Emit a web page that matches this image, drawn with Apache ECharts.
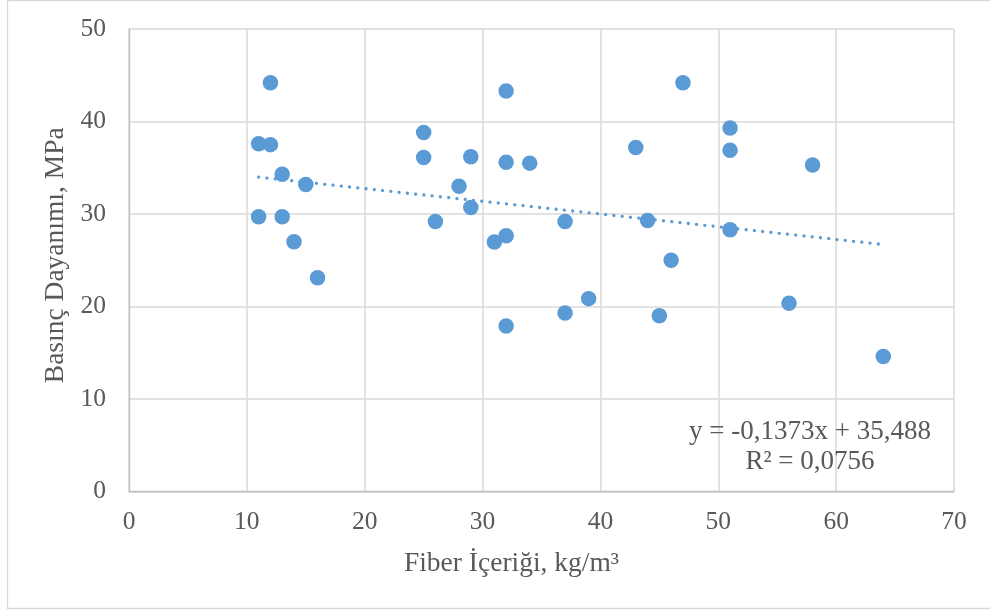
<!DOCTYPE html>
<html>
<head>
<meta charset="utf-8">
<script src="https://cdn.jsdelivr.net/npm/echarts@6/dist/echarts.min.js"></script>
<style>html,body{margin:0;padding:0;background:#fff;}#c{width:990px;height:612px;}</style>
</head>
<body>
<div id="c"></div>
<script>
// Fiber content (kg/m3) and compressive strength (MPa)
const fiberContent = [12, 11, 12, 13, 15, 11, 13, 14, 16, 25, 25, 29, 32, 34, 28, 29, 26, 32, 31, 32, 32, 37, 37, 47, 51, 51, 43, 58, 44, 51, 46, 39, 45, 56, 64];
const strength     = [44.2, 37.6, 37.5, 34.3, 33.2, 29.7, 29.7, 27.0, 23.1, 38.8, 36.1, 36.2, 35.6, 35.5, 33.0, 30.7, 29.2, 27.65, 26.97, 17.9, 43.3, 29.2, 19.3, 44.2, 39.3, 36.9, 37.2, 35.3, 29.3, 28.3, 25.0, 20.85, 19.0, 20.35, 14.6];
// linear trendline endpoints (from the displayed equation)
const trendX = [11, 64];
const trendY = [33.98, 26.70];
const xTicks = [0, 10, 20, 30, 40, 50, 60, 70];
const yTicks = [0, 10, 20, 30, 40, 50];
const equationText = 'y = -0,1373x + 35,488';
const r2Text = 'R² = 0,0756';
const xTitle = 'Fiber İçeriği, kg/m³';
const yTitle = 'Basınç Dayanımı, MPa';

const FONT = '"Liberation Serif", "Times New Roman", serif';
const TXT = '#595959';
const chart = echarts.init(document.getElementById('c'), null, {renderer: 'canvas'});
chart.setOption({
  animation: false,
  grid: {left: 129, right: 36, top: 29, bottom: 120.5, containLabel: false},
  xAxis: {
    type: 'value', min: xTicks[0], max: xTicks[xTicks.length - 1], interval: 10,
    axisLine: {show: true, lineStyle: {color: '#bfbfbf', width: 1.3}},
    axisTick: {show: false},
    splitLine: {show: true, lineStyle: {color: '#d9d9d9', width: 1.5}},
    axisLabel: {color: TXT, fontFamily: FONT, fontSize: 25.5, margin: 18},
    name: xTitle, nameLocation: 'middle', nameGap: 58,
    nameTextStyle: {color: TXT, fontFamily: FONT, fontSize: 27.5, padding: [0, 60, 0, 0]}
  },
  yAxis: {
    type: 'value', min: yTicks[0], max: yTicks[yTicks.length - 1], interval: 10,
    axisLine: {show: true, lineStyle: {color: '#bfbfbf', width: 1.3}},
    axisTick: {show: false},
    splitLine: {show: true, lineStyle: {color: '#d9d9d9', width: 1.5}},
    axisLabel: {color: TXT, fontFamily: FONT, fontSize: 25.5, margin: 23},
    name: yTitle, nameLocation: 'middle', nameGap: 59,
    nameTextStyle: {color: TXT, fontFamily: FONT, fontSize: 27.5, padding: [0, 0, 0, 10]}
  },
  graphic: [
    {type: 'rect', silent: true, z: -10,
     shape: {x: 7.5, y: 0.5, width: 1000, height: 608},
     style: {fill: 'none', stroke: '#d9d9d9', lineWidth: 1.3}},
    {type: 'text', silent: true, z: 10, x: 810, y: 417,
     style: {text: equationText + '\n' + r2Text, align: 'center', verticalAlign: 'top',
             fill: TXT, font: '27px ' + FONT, lineHeight: 30}}
  ],
  series: [
    {
      type: 'scatter', symbol: 'circle', symbolSize: 15.5,
      itemStyle: {color: '#5b9bd5', opacity: 1},
      data: fiberContent.map((x, i) => [x, strength[i]]),
      z: 3
    },
    {
      type: 'line', showSymbol: false, symbol: 'none', silent: true,
      lineStyle: {color: '#5b9bd5', width: 3.3, type: [0.01, 8.3], cap: 'round'},
      data: trendX.map((x, i) => [x, trendY[i]]),
      z: 4
    }
  ]
});
</script>
</body>
</html>
